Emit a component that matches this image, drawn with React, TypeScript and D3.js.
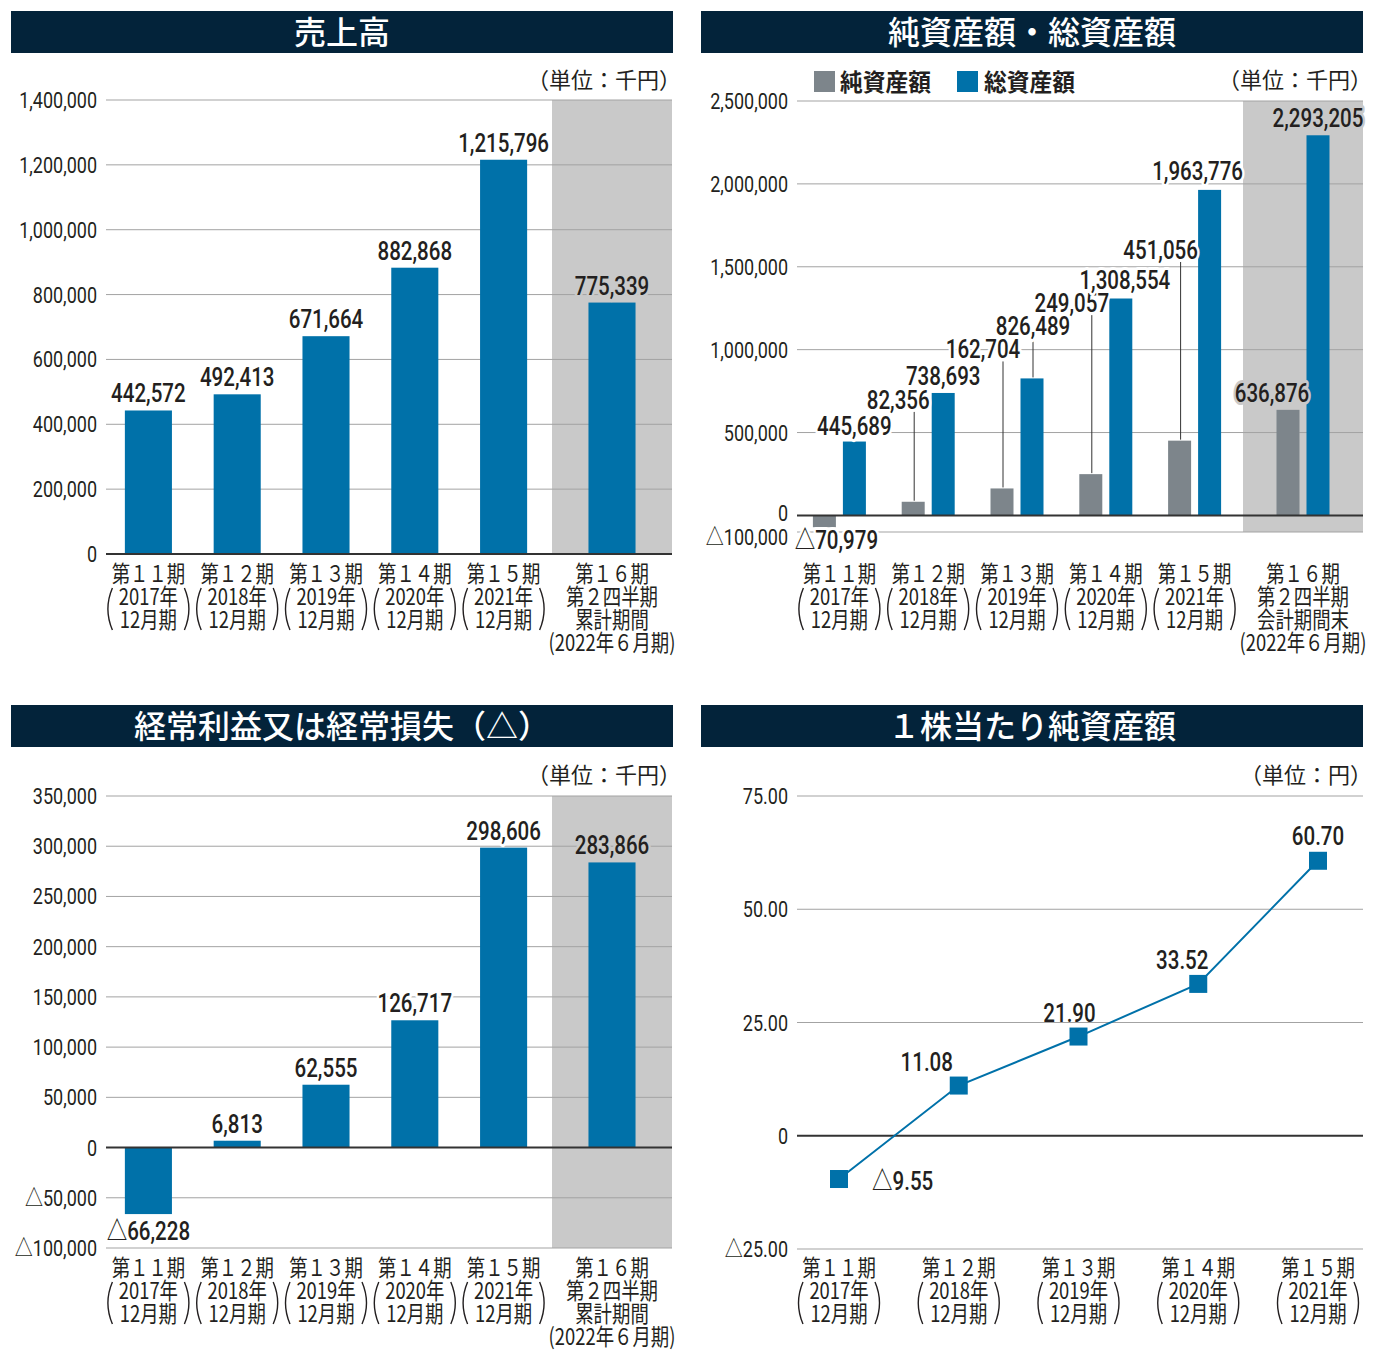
import React from "react";
import * as d3 from "d3";

// period labels
const periodNames = ["第１１期", "第１２期", "第１３期", "第１４期", "第１５期"];
const fiscalYears = ["2017年", "2018年", "2019年", "2020年", "2021年"];
const yearEnd = "12月期";
const q2Cumulative = ["第１６期", "第２四半期", "累計期間", "(2022年６月期)"];
const q2PeriodEnd = ["第１６期", "第２四半期", "会計期間末", "(2022年６月期)"];

// 売上高 (千円)
const sales = [442572, 492413, 671664, 882868, 1215796, 775339];
const salesTicks = [0, 200000, 400000, 600000, 800000, 1000000, 1200000, 1400000];

// 純資産額・総資産額 (千円)
const netAssets = [-70979, 82356, 162704, 249057, 451056, 636876];
const totalAssets = [445689, 738693, 826489, 1308554, 1963776, 2293205];
const assetTicks = [-100000, 0, 500000, 1000000, 1500000, 2000000, 2500000];

// 経常利益又は経常損失 (千円)
const ordinaryIncome = [-66228, 6813, 62555, 126717, 298606, 283866];
const incomeTicks = [-100000, -50000, 0, 50000, 100000, 150000, 200000, 250000, 300000, 350000];

// １株当たり純資産額 (円)
const bookValuePerShare = [-9.55, 11.08, 21.9, 33.52, 60.7];
const bpsTicks = [-25, 0, 25, 50, 75];

// label placement tweaks for the crowded asset chart (pixels)
const netLabelDx = [12, -15, -19, -19, -19, -16];
const netLabelLift = [22, 93, 130, 162, 182, 8];
const netLeader = [false, true, true, true, true, false];
const totalLabelDx = [0, 0, 1, 4, -12, 0];
const totalLabelLift = [7, 8, 43, 10, 10, 8];
const totalLeader = [false, false, true, false, false, false];
const bpsLabelDx = [33, -32, -9, -16, 0];
const bpsLabelDy = [11, -15, -15, -15, -16];

const NAVY = "#03233a";
const BLUE = "#0071a9";
const GREY_BAR = "#7d858b";
const SHADE = "#c9c9c9";
const GRID = "#a3a3a3";
const INK = "#231f20";
const NUM = "Roboto, 'Noto Sans CJK JP', sans-serif";
const JP = "'Noto Sans CJK JP', sans-serif";

const fmt = d3.format(",");
const signed = (v: number) => (v < 0 ? "△" + fmt(-v) : fmt(v));
const signed2 = (v: number) => (v === 0 ? "0" : v < 0 ? "△" + (-v).toFixed(2) : v.toFixed(2));

function Txt({ x, y, sx = 1, anchor = "middle", size, weight = 400, family = NUM, fill = INK, halo, children }: any) {
  return (
    <text
      transform={`translate(${x},${y}) scale(${sx},1)`}
      textAnchor={anchor}
      fontSize={size}
      fontWeight={weight}
      fontFamily={family}
      fill={fill}
      stroke={halo || "none"}
      strokeWidth={halo ? 6 : 0}
      strokeLinejoin="round"
      paintOrder="stroke"
    >
      {children}
    </text>
  );
}

function TitleBar({ x, y, w, h, text }: any) {
  return (
    <g>
      <rect x={x} y={y} width={w} height={h} fill={NAVY} />
      <Txt x={x + w / 2} y={y + h / 2 + 12} size={32} weight={500} family={JP} fill="#fff">
        {text}
      </Txt>
    </g>
  );
}

function Unit({ x, y, text }: any) {
  return <Txt x={x + 9} y={y} anchor="end" size={22} family={JP}>{text}</Txt>;
}

function PeriodLabel({ cx, y, i }: any) {
  const top = y + 6;
  const bot = y + 48;
  const mid = (top + bot) / 2;
  return (
    <g>
      <Txt x={cx} y={y} size={23} sx={0.8} family={JP}>{periodNames[i]}</Txt>
      <Txt x={cx} y={y + 23} size={23} sx={0.8} family={JP}>{fiscalYears[i]}</Txt>
      <Txt x={cx} y={y + 46} size={23} sx={0.8} family={JP}>{yearEnd}</Txt>
      <path d={`M${cx - 36},${top} Q${cx - 45},${mid} ${cx - 36},${bot}`} fill="none" stroke={INK} strokeWidth={1.4} />
      <path d={`M${cx + 36},${top} Q${cx + 45},${mid} ${cx + 36},${bot}`} fill="none" stroke={INK} strokeWidth={1.4} />
    </g>
  );
}

function LastLabel({ cx, y, lines }: any) {
  return (
    <g>
      {lines.map((s: string, k: number) => (
        <Txt key={k} x={cx} y={y + k * 23} size={23} sx={0.8} family={JP}>{s}</Txt>
      ))}
    </g>
  );
}

function YTicks({ ticks, y, x0, x1, fmtTick, dy = () => 8 }: any) {
  return (
    <g>
      {ticks.map((t: number) => (
        <g key={t}>
          <line x1={x0} x2={x1} y1={y(t)} y2={y(t)} stroke={t === 0 ? "#333" : GRID} strokeWidth={t === 0 ? 2 : 1} />
          <Txt x={x0 - 9} y={y(t) + dy(t)} anchor="end" size={22.5} sx={0.8}>{fmtTick(t)}</Txt>
        </g>
      ))}
    </g>
  );
}

function BarPanel({ values, ticks, top, bottom, titleY, title, unitY, labelY, lastLines }: any) {
  const x0 = 106, x1 = 672;
  const y = d3.scaleLinear().domain([ticks[0], ticks[ticks.length - 1]]).range([bottom, top]);
  const xb = d3.scaleBand().domain(periodNames).range([x0 - 2, x0 + 442]);
  const shadeX = x0 + 446;
  const cx = (i: number) => (i < 5 ? (xb(periodNames[i]) as number) + xb.bandwidth() / 2 : (shadeX + x1) / 2);
  const bw = xb.bandwidth() * 0.53;
  return (
    <g>
      <TitleBar x={11} y={titleY} w={662} h={42} text={title} />
      <Unit x={x1} y={unitY} text="（単位：千円）" />
      <rect x={shadeX} y={top} width={x1 - shadeX} height={bottom - top} fill={SHADE} />
      <YTicks ticks={ticks.filter((t: number) => t !== 0)} y={y} x0={x0} x1={x1} fmtTick={signed} />
      {values.map((v: number, i: number) => (
        <rect key={i} x={cx(i) - bw / 2} y={y(Math.max(v, 0))} width={bw} height={Math.abs(y(v) - y(0))} fill={BLUE} />
      ))}
      <YTicks ticks={[0]} y={y} x0={x0} x1={x1} fmtTick={signed} />
      {values.map((v: number, i: number) => (
        <Txt key={i} x={cx(i)} y={v < 0 ? y(v) + 26 : y(v) - 8} size={26} sx={0.79} weight={500}
          halo={i === 5 ? SHADE : "#fff"}>{signed(v)}</Txt>
      ))}
      {periodNames.map((_, i) => <PeriodLabel key={i} cx={cx(i)} y={labelY} i={i} />)}
      <LastLabel cx={cx(5)} y={labelY} lines={lastLines} />
    </g>
  );
}

function AssetPanel() {
  const x0 = 797, x1 = 1363, top = 101, bottom = 532;
  const y = d3.scaleLinear().domain([-100000, 2500000]).range([bottom, top]);
  const xb = d3.scaleBand().domain(periodNames).range([x0 - 2, x0 + 442]);
  const shadeX = x0 + 446;
  const cx = (i: number) => (i < 5 ? (xb(periodNames[i]) as number) + xb.bandwidth() / 2 : (shadeX + x1) / 2);
  const bw = 23, off = 15;
  const labelY = 582;
  const tickDy = (t: number) => (t === 0 ? 6 : t < 0 ? 13 : 8);
  return (
    <g>
      <TitleBar x={701} y={11} w={662} h={42} text="純資産額・総資産額" />
      <rect x={814} y={71} width={21} height={21} fill={GREY_BAR} />
      <Txt x={840} y={91} anchor="start" size={24} sx={0.95} weight={700} family={JP}>純資産額</Txt>
      <rect x={957} y={71} width={21} height={21} fill={BLUE} />
      <Txt x={984} y={91} anchor="start" size={24} sx={0.95} weight={700} family={JP}>総資産額</Txt>
      <Unit x={x1} y={88} text="（単位：千円）" />
      <rect x={shadeX} y={top} width={x1 - shadeX} height={bottom - top} fill={SHADE} />
      <YTicks ticks={assetTicks.filter((t) => t !== 0)} y={y} x0={x0} x1={x1} fmtTick={signed} dy={tickDy} />
      {netAssets.map((v, i) => (
        <rect key={"n" + i} x={cx(i) - off - bw / 2} y={y(Math.max(v, 0))} width={bw} height={Math.abs(y(v) - y(0))} fill={GREY_BAR} />
      ))}
      {totalAssets.map((v, i) => (
        <rect key={"t" + i} x={cx(i) + off - bw / 2} y={y(v)} width={bw} height={y(0) - y(v)} fill={BLUE} />
      ))}
      <YTicks ticks={[0]} y={y} x0={x0} x1={x1} fmtTick={signed} dy={tickDy} />
      {netAssets.map((v, i) => {
        const base = v < 0 ? y(v) + netLabelLift[i] : y(v) - netLabelLift[i];
        return (
          <g key={"nl" + i}>
            {netLeader[i] && <line x1={cx(i) - off + 1} x2={cx(i) - off + 1} y1={base + 3} y2={y(v) - 1} stroke="#333" strokeWidth={1} />}
            <Txt x={cx(i) - off + netLabelDx[i]} y={base} size={26} sx={0.79} weight={500} halo={i === 5 ? SHADE : "#fff"}>{signed(v)}</Txt>
          </g>
        );
      })}
      {totalAssets.map((v, i) => {
        const base = y(v) - totalLabelLift[i];
        return (
          <g key={"tl" + i}>
            {totalLeader[i] && <line x1={cx(i) + off + 1} x2={cx(i) + off + 1} y1={base + 3} y2={y(v) - 1} stroke="#333" strokeWidth={1} />}
            <Txt x={cx(i) + off + totalLabelDx[i]} y={base} size={26} sx={0.79} weight={500} halo={i === 5 ? SHADE : "#fff"}>{signed(v)}</Txt>
          </g>
        );
      })}
      {periodNames.map((_, i) => <PeriodLabel key={i} cx={cx(i)} y={labelY} i={i} />)}
      <LastLabel cx={cx(5)} y={labelY} lines={q2PeriodEnd} />
    </g>
  );
}

function BpsPanel() {
  const x0 = 797, x1 = 1363, top = 796, bottom = 1249;
  const y = d3.scaleLinear().domain([-25, 75]).range([bottom, top]);
  const x = d3.scalePoint().domain(periodNames).range([839, 1318]);
  const line = d3.line<number>().x((_, i) => x(periodNames[i]) as number).y((d) => y(d));
  const labelY = 1276;
  return (
    <g>
      <TitleBar x={701} y={705} w={662} h={42} text="１株当たり純資産額" />
      <Unit x={x1} y={783} text="（単位：円）" />
      <YTicks ticks={bpsTicks} y={y} x0={x0} x1={x1} fmtTick={signed2} />
      <path d={line(bookValuePerShare) || ""} fill="none" stroke={BLUE} strokeWidth={2} />
      {bookValuePerShare.map((v, i) => (
        <rect key={i} x={(x(periodNames[i]) as number) - 9} y={y(v) - 9} width={18} height={18} fill={BLUE} />
      ))}
      {bookValuePerShare.map((v, i) => (
        <Txt key={i} x={(x(periodNames[i]) as number) + bpsLabelDx[i]} y={y(v) + bpsLabelDy[i]}
          anchor={i === 0 ? "start" : "middle"} size={26} sx={0.79} weight={500}>{signed2(v)}</Txt>
      ))}
      {periodNames.map((p, i) => <PeriodLabel key={i} cx={x(p)} y={labelY} i={i} />)}
    </g>
  );
}

export default function App() {
  return (
    <svg width={1376} height={1364} style={{ position: "absolute", left: 0, top: 0, background: "#fff" }}>
      <BarPanel values={sales} ticks={salesTicks} top={100} bottom={554} titleY={11} title="売上高"
        unitY={88} labelY={582} lastLines={q2Cumulative} />
      <AssetPanel />
      <BarPanel values={ordinaryIncome} ticks={incomeTicks} top={796} bottom={1248} titleY={705}
        title="経常利益又は経常損失（△）" unitY={783} labelY={1276} lastLines={q2Cumulative} />
      <BpsPanel />
    </svg>
  );
}
